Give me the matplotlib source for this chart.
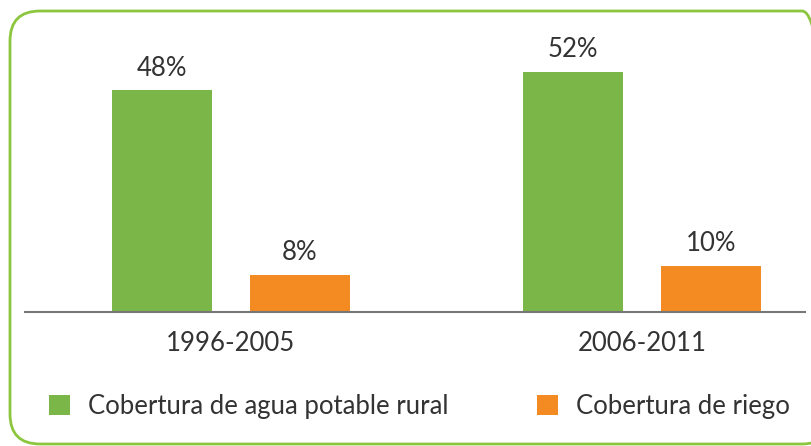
import matplotlib
matplotlib.use("Agg")
import matplotlib.pyplot as plt
from matplotlib.patches import FancyBboxPatch, Patch
from matplotlib.transforms import IdentityTransform
import numpy as np

periods = ["1996-2005", "2006-2011"]
agua_potable = [48, 52]
riego = [8, 10]
series_names = ["Cobertura de agua potable rural", "Cobertura de riego"]

GREEN = "#7ab648"
ORANGE = "#f38a22"
BORDER = "#8cc63f"
TEXT = "#333333"
FS = 18.5

plt.rcParams["font.family"] = ["Lato", "DejaVu Sans"]

W, H = 812, 446
fig = plt.figure(figsize=(W / 100, H / 100), dpi=100)

# rounded border (pixel coordinates, origin bottom-left)
border = FancyBboxPatch((10, 2), 822, 433,
                        boxstyle="round,pad=0,rounding_size=30",
                        transform=IdentityTransform(), fill=False,
                        edgecolor=BORDER, linewidth=2.0)
fig.patches.append(border)

ax = fig.add_axes([25 / W, 134 / H, (805 - 25) / W, (426 - 134) / H])
x = np.arange(len(periods))
off = 0.168
bw = 0.243
b1 = ax.bar(x - off, agua_potable, bw, color=GREEN, label=series_names[0])
b2 = ax.bar(x + off, riego, bw, color=ORANGE, label=series_names[1])
ax.bar_label(b1, labels=[f"{v}%" for v in agua_potable], padding=7, fontsize=FS, color=TEXT)
ax.bar_label(b2, labels=[f"{v}%" for v in riego], padding=7, fontsize=FS, color=TEXT)

ax.set_xlim(-0.501, 1.397)
ax.set_ylim(0, 63.2)
for s in ["top", "right", "left"]:
    ax.spines[s].set_visible(False)
ax.spines["bottom"].set_color("#777777")
ax.spines["bottom"].set_linewidth(1.5)
ax.set_yticks([])
ax.set_xticks(x)
ax.set_xticklabels(periods, fontsize=FS, color=TEXT)
ax.tick_params(axis="x", length=0, pad=14)
ax.patch.set_visible(False)

handles = [Patch(facecolor=GREEN), Patch(facecolor=ORANGE)]
fig.legend(handles, series_names, loc="upper left",
           bbox_to_anchor=(49 / W, (446 - 394) / H), ncol=2, frameon=False,
           fontsize=FS, labelcolor=TEXT, borderpad=0, borderaxespad=0,
           handlelength=0.8, handleheight=0.8, handletextpad=0.72,
           columnspacing=3.45)

fig.savefig("out.png", dpi=100)
